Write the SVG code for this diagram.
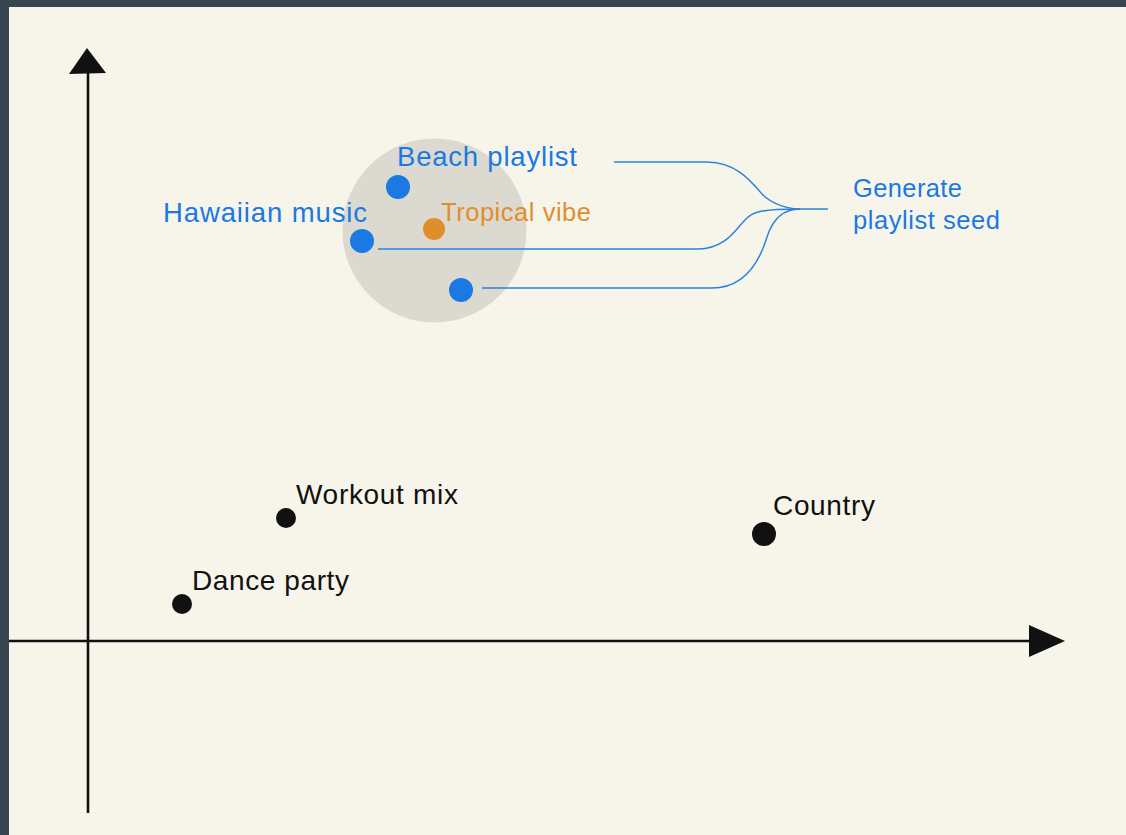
<svg xmlns="http://www.w3.org/2000/svg" width="1126" height="835" viewBox="0 0 1126 835">
<style>
.axis{stroke:#111;stroke-width:2.6;fill:none}
.conn{stroke:#2a82e0;stroke-width:1.5;fill:none}
.blue{fill:#1a79e2}
.lbl{font-family:"Liberation Sans",Arial,sans-serif}
.lb{fill:#1a79e2}
.lk{fill:#111}
.lo{fill:#e08e2c}
</style>
<rect x="0" y="0" width="1126" height="835" fill="#37474f"/>
<rect x="9" y="7" width="1117" height="828" fill="#f7f5ea"/>
<g id="axes">
<line class="axis" x1="88" y1="72" x2="88" y2="813"/>
<polygon points="87,48 106,73 69,74" fill="#111"/>
<line class="axis" x1="9" y1="641" x2="1031" y2="641"/>
<polygon points="1065,641 1029,657 1029,625" fill="#111"/>
</g>
<g id="cluster">
<circle cx="434.5" cy="230.5" r="92" fill="#dcdad0"/>
</g>
<g id="connectors">
<path class="conn" d="M614,162 H707 C735,162 750,180 762,194 C772,205 790,209 800,209 H828"/>
<path class="conn" d="M378,249 H698 C725,249 735,230 745,220 C752,212 760,209 800,209"/>
<path class="conn" d="M482,288 H712 C745,288 760,260 767,237 C773,218 785,209 800,209"/>
</g>
<g id="beach">
<circle class="blue" cx="398" cy="187" r="12"/>
<text class="lbl lb" x="397" y="166" font-size="27.5" textLength="180" lengthAdjust="spacing">Beach playlist</text>
</g>
<g id="hawaiian">
<circle class="blue" cx="362" cy="241" r="12"/>
<text class="lbl lb" x="163" y="222" font-size="27.5" textLength="204" lengthAdjust="spacing">Hawaiian music</text>
</g>
<g id="third">
<circle class="blue" cx="461" cy="290" r="12"/>
</g>
<g id="tropical">
<circle cx="434" cy="229" r="11" fill="#e08e2c"/>
<text class="lbl lo" x="441" y="221" font-size="25.5" textLength="150" lengthAdjust="spacing">Tropical vibe</text>
</g>
<g id="seed">
<text class="lbl lb" x="853" y="197" font-size="25.5" textLength="109" lengthAdjust="spacing">Generate</text>
<text class="lbl lb" x="853" y="229" font-size="25.5" textLength="147" lengthAdjust="spacing">playlist seed</text>
</g>
<g id="workout">
<circle cx="286" cy="518" r="10" fill="#111"/>
<text class="lbl lk" x="296" y="504" font-size="28" textLength="162" lengthAdjust="spacing">Workout mix</text>
</g>
<g id="dance">
<circle cx="182" cy="604" r="10" fill="#111"/>
<text class="lbl lk" x="192" y="590" font-size="28" textLength="157" lengthAdjust="spacing">Dance party</text>
</g>
<g id="country">
<circle cx="764" cy="534" r="12" fill="#111"/>
<text class="lbl lk" x="773" y="515" font-size="28" textLength="102" lengthAdjust="spacing">Country</text>
</g>
</svg>
